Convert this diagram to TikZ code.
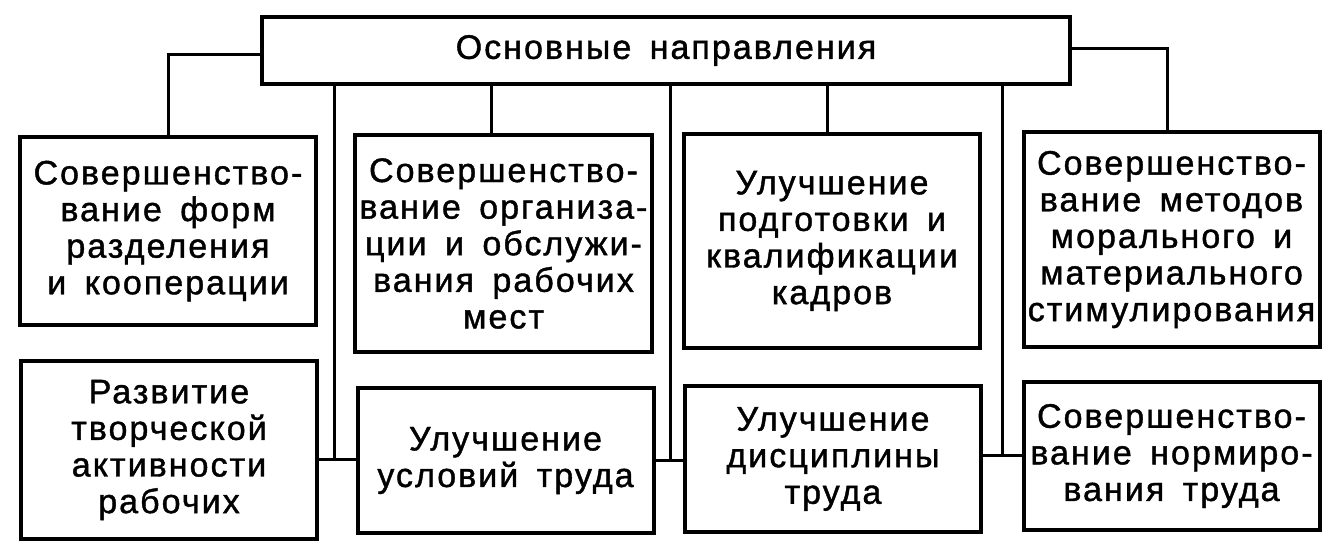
\documentclass[tikz,border=0pt]{standalone}
\usepackage{fontspec}
\setmainfont{Liberation Sans}[LetterSpace=6, WordSpace=1.6, FakeBold=1.2]
\usepackage{tikz}
\usetikzlibrary{positioning}
\tikzstyle{block} = [rectangle, draw=black, line width=2pt, fill=white, align=center, inner sep=2pt, minimum width=148pt, font=\fontsize{17pt}{18.3pt}\selectfont]
\tikzstyle{line} = [line width=1.5pt, -]

\begin{document}
\begin{tikzpicture}[x=0.5pt, y=-0.5pt]
    \useasboundingbox (0,0) rectangle (1343,554);
    \node(tp)[block, minimum width=404pt, minimum height=33.5pt] at (666,50.5) {Основные направления};
    %
    \node(forms)[block, minimum height=94pt] at (168,231) {Совершенство-\\вание форм\\разделения\\и кооперации};
    \node(org)[block, minimum height=108.5pt] at (503.5,243.5) {Совершенство-\\вание организа-\\ции и обслужи-\\вания рабочих\\мест};
    \node(train)[block, minimum height=107pt] at (832,241) {Улучшение\\подготовки и\\квалификации\\кадров};
    \node(stim)[block, minimum height=107.5pt] at (1171.5,239.5) {Совершенство-\\вание методов\\морального и\\материального\\стимулирования};
    %
    \node(creat)[block, minimum height=89pt] at (169,450) {Развитие\\творческой\\активности\\рабочих};
    \node(cond)[block, minimum height=72.5pt] at (505.5,460.5) {Улучшение\\условий труда};
    \node(disc)[block, minimum height=73pt] at (833,459) {Улучшение\\дисциплины\\труда};
    \node(norm)[block, minimum height=74pt] at (1171.5,456) {Совершенство-\\вание нормиро-\\вания труда};
    %
    \coordinate(j1) at (334,459);
    \coordinate(j2) at (670,460);
    \coordinate(j3) at (1002,455);
    %
    \draw [line] ([yshift=-2pt]tp.west) -| (forms.north);
    \draw [line] ([yshift=1pt]tp.east) -| ([xshift=-2pt]stim.north);
    \draw [line] ([xshift=-6pt]org.north |- tp.south) -- ([xshift=-6pt]org.north);
    \draw [line] ([xshift=-2.5pt]train.north |- tp.south) -- ([xshift=-2.5pt]train.north);
    %
    \draw [line] (tp.south -| j1) -- (j1);
    \draw [line] (tp.south -| j2) -- (j2);
    \draw [line] (tp.south -| j3) -- (j3);
    \draw [line] (creat.east |- j1) -- (cond.west |- j1);
    \draw [line] (cond.east |- j2) -- (disc.west |- j2);
    \draw [line] (disc.east |- j3) -- (norm.west |- j3);
\end{tikzpicture}
\end{document}
